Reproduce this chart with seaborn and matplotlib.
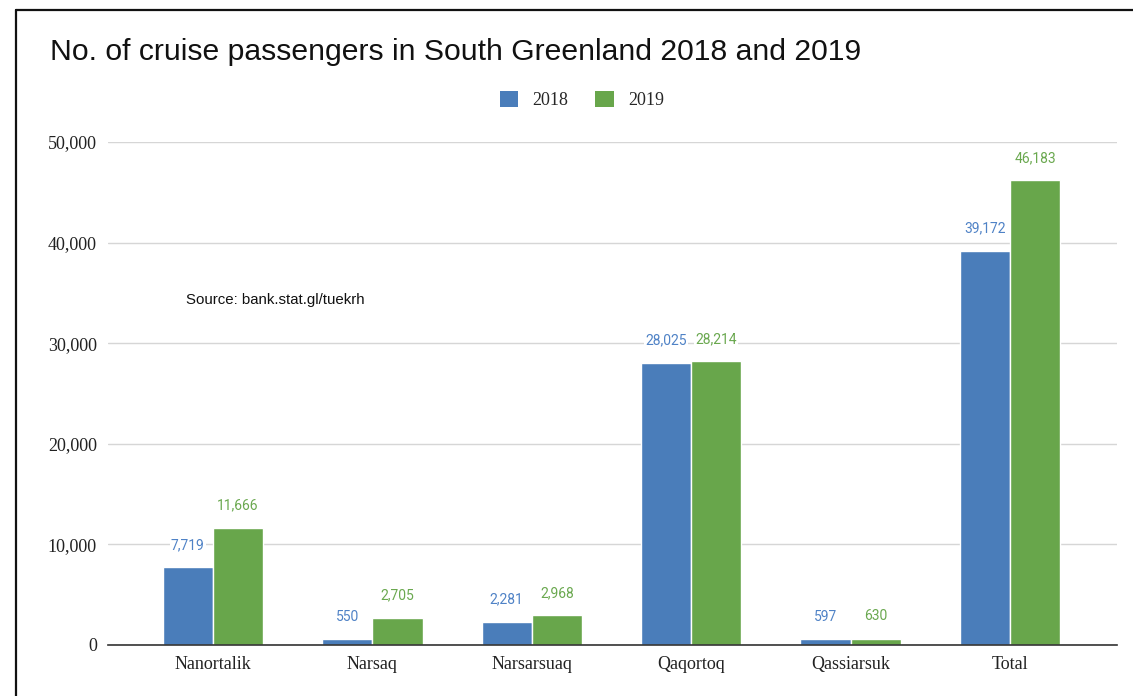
import matplotlib
matplotlib.use("Agg")
import matplotlib.pyplot as plt
from matplotlib.patches import Patch
from matplotlib.lines import Line2D
import seaborn as sns
import pandas as pd

# Cruise passenger counts by settlement
places = ["Nanortalik", "Narsaq", "Narsarsuaq", "Qaqortoq", "Qassiarsuk", "Total"]
passengers_2018 = [7719, 550, 2281, 28025, 597, 39172]
passengers_2019 = [11666, 2705, 2968, 28214, 630, 46183]
years = ["2018", "2019"]
y_ticks = [0, 10000, 20000, 30000, 40000, 50000]

bar_colors = {"2018": "#4a7dba", "2019": "#68a64b"}
label_colors = {"2018": "#4f82c6", "2019": "#6aa84f"}

df = pd.DataFrame({
    "place": places * 2,
    "year": ["2018"] * len(places) + ["2019"] * len(places),
    "passengers": passengers_2018 + passengers_2019,
})

sns.set_theme(style="white")
serif = "Liberation Serif"
sans = "Liberation Sans"

fig = plt.figure(figsize=(11.33, 6.96), dpi=100)
ax = fig.add_axes([0.0953, 0.0733, 0.8906, 0.7227])

sns.barplot(data=df, x="place", y="passengers", hue="year", hue_order=years,
            palette=bar_colors, width=0.63, edgecolor="white", linewidth=1,
            saturation=1, legend=False, ax=ax)

ax.set_ylim(0, 50000)
ax.set_xlim(-0.658, 5.671)
ax.set_yticks(y_ticks)
ax.set_yticklabels([f"{t:,}" for t in y_ticks], fontfamily=serif, fontsize=13, color="#222222")
ax.set_xticks(range(len(places)))
ax.set_xticklabels(places, fontfamily=serif, fontsize=13, color="#222222")
ax.tick_params(axis="both", length=0)
ax.tick_params(axis="y", pad=8)
ax.tick_params(axis="x", pad=8)
ax.set_xlabel("")
ax.set_ylabel("")

for s in ["top", "right", "left"]:
    ax.spines[s].set_visible(False)
ax.spines["bottom"].set_color("#333333")
ax.spines["bottom"].set_linewidth(1.2)

ax.yaxis.grid(True, color="#d6d6d6", linewidth=1)
ax.set_axisbelow(True)

# Value labels above each bar
for container, year in zip(ax.containers, years):
    vals = [int(b.get_height()) for b in container]
    ax.bar_label(container, labels=[f"{v:,}" for v in vals], padding=11,
                 fontfamily="Roboto", fontsize=10, color=label_colors[year],
                 bbox=dict(boxstyle="square,pad=0.1", facecolor="white", edgecolor="none"))

fig.text(50 / 1133, 1 - 52 / 696, "No. of cruise passengers in South Greenland 2018 and 2019",
         fontfamily=sans, fontsize=21.7, color="#111111", ha="left", va="center")

fig.text(186 / 1133, 1 - 300 / 696, "Source: bank.stat.gl/tuekrh",
         fontfamily=sans, fontsize=10.8, color="#111111", ha="left", va="center")

handles = [Patch(facecolor=bar_colors[y], edgecolor="none", label=y) for y in years]
fig.legend(handles=handles, loc="center", bbox_to_anchor=(582 / 1133, 1 - 100 / 696),
           ncol=2, frameon=False, prop={"family": serif, "size": 13},
           handlelength=1.0, handleheight=1.0, handletextpad=0.8, columnspacing=1.5)

# Frame lines on the left and top edges
fig.add_artist(Line2D([16 / 1133, 16 / 1133], [0, 1 - 9.5 / 696], transform=fig.transFigure,
                      color="#111111", linewidth=1.6))
fig.add_artist(Line2D([16 / 1133, 1], [1 - 9.5 / 696, 1 - 9.5 / 696], transform=fig.transFigure,
                      color="#111111", linewidth=1.6))

fig.savefig("out.png", dpi=100, facecolor="white")
